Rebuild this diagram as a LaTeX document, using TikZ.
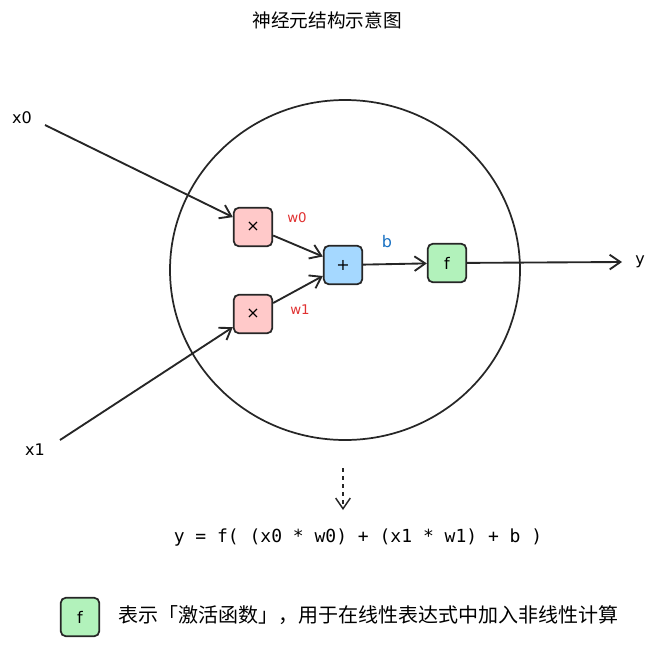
\documentclass[tikz,border=0pt]{standalone}
\usepackage{fontspec}
\setmainfont{DejaVu Sans}
\setmonofont{DejaVu Sans Mono}
\newfontfamily\cjk{Noto Sans CJK SC}
\usetikzlibrary{arrows.meta}
\definecolor{pk}{HTML}{FFC9C9}
\definecolor{bl}{HTML}{A5D8FF}
\definecolor{gr}{HTML}{B2F2BB}
\definecolor{rd}{HTML}{E03131}
\definecolor{bb}{HTML}{1971C2}
\begin{document}
\begin{tikzpicture}[x=0.75pt,y=-0.75pt,
  box/.style={draw=black!85,line width=1.3pt,rounded corners=4pt,minimum size=29pt,inner sep=0pt,font=\fontsize{12}{14}\selectfont},
  arr/.style={line width=1.4pt,draw=black!85,-{Straight Barb[length=8pt,width=11pt]}},
  lbl/.style={font=\fontsize{12}{14}\selectfont}]
\useasboundingbox (0,0) rectangle (655,646);
\node[font=\cjk\fontsize{14}{16}\selectfont] (title) at (327,20) {神经元结构示意图};
\draw[line width=1.3pt,black!85] (345,270) ellipse [x radius=175, y radius=170];
\node[box,fill=pk] (m0) at (253,227) {×};
\node[box,fill=pk] (m1) at (253,314) {×};
\node[box,fill=bl] (p) at (343,265) {+};
\node[box,fill=gr] (f) at (447,263) {f};
\node[lbl] (x0) at (22,118) {x0};
\node[lbl] (x1) at (35,450) {x1};
\node[lbl] (y) at (640,262) {y};
\coordinate (s0) at (45,125);
\coordinate (s1) at (60,440);
\coordinate (ye) at (622,262);
\node[lbl,text=rd,font=\fontsize{10}{12}\selectfont] (w0) at (297,218) {w0};
\node[lbl,text=rd,font=\fontsize{10}{12}\selectfont] (w1) at (300,310) {w1};
\node[lbl,text=bb] (b) at (387,242) {b};
\draw[arr] (s0) -- (m0);
\draw[arr] (s1) -- (m1);
\draw[arr] (m0) -- (p);
\draw[arr] (m1) -- (p);
\draw[arr] (p) -- (f);
\draw[arr] (f) -- (ye);
\coordinate (da) at (343,468);
\coordinate (db) at (343,510);
\draw[arr,line width=1.1pt,dashed] (da) -- (db);
\node[font=\ttfamily\fontsize{13.5}{16}\selectfont] (eq) at (358,538) {y = f( (x0 * w0) + (x1 * w1) + b )};
\node[box,fill=gr] (lg) at (80,617) {f};
\node[font=\cjk\fontsize{15}{18}\selectfont,anchor=west] (lt) at (114,615) {表示「激活函数」，用于在线性表达式中加入非线性计算};
\end{tikzpicture}
\end{document}
